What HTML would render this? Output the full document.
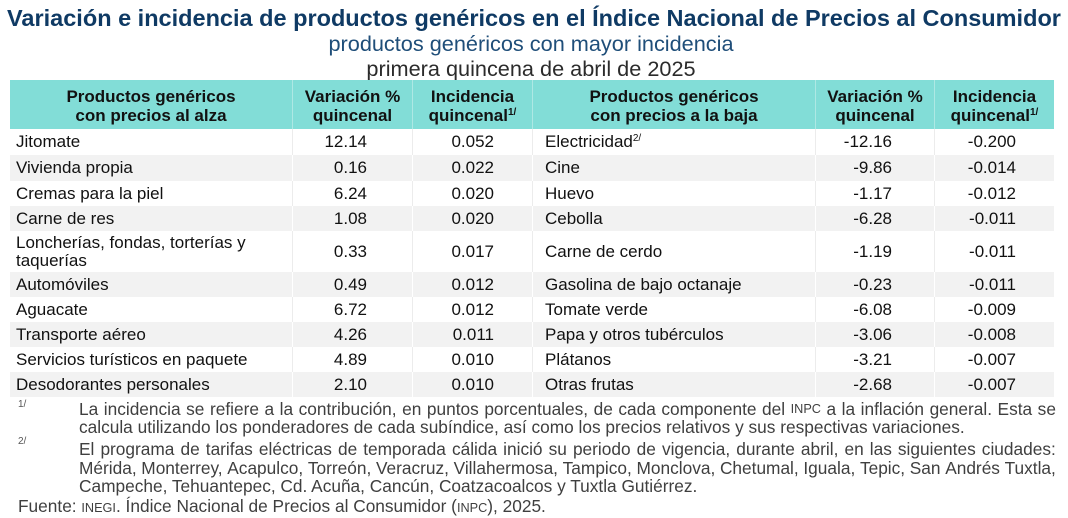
<!DOCTYPE html>
<html><head><meta charset="utf-8">
<style>
*{margin:0;padding:0}
body{width:1068px;height:518px;position:relative;background:#fff;font-family:"Liberation Sans",Arial,sans-serif;overflow:hidden;color:#111}
.t{position:absolute;left:-3px;width:1068px;text-align:center;white-space:nowrap}
.row{position:absolute;left:10px;width:1044px;display:flex}
.c{box-sizing:border-box;height:100%;display:flex;align-items:center;font-size:17px;white-space:nowrap}
.h .c{background:#82ddd7;justify-content:center;text-align:center;font-weight:bold;line-height:19px;border-right:1px solid #aee8e4;padding-top:2px}
.w .c{background:#fff;border-right:1px solid #ececec}
.g .c{background:#f2f2f2;border-right:1px solid #fff}
.row .c:last-child{border-right:none}
.c1{width:283px;padding-left:6px}
.c4{width:283px;padding-left:12px}
.c2{width:120px;justify-content:flex-end;padding-right:45px}
.c3{width:120px;justify-content:flex-end;padding-right:38px}
.c5{width:119px;justify-content:flex-end;padding-right:42px}
.c6{width:119px;justify-content:flex-end;padding-right:38px}
.h .c1,.h .c4{padding-left:0}
.h .c2,.h .c3,.h .c5,.h .c6{padding-right:0}
sup{font-size:10px;vertical-align:6px;line-height:0}
.fl{position:absolute;left:79px;width:977px;display:flex;justify-content:space-between;white-space:nowrap;font-size:17.3px;line-height:17.3px;height:17.3px;color:#3f3f3f}
.fl.l{justify-content:flex-start}
.sm{font-size:12.7px}
.mk{position:absolute;left:18px;font-size:10px;color:#555}
</style></head><body>

<div class="t" style="left:0;top:7px;font-size:23.5px;line-height:23.5px;font-weight:bold;color:#0f3a64">Variación e incidencia de productos genéricos en el Índice Nacional de Precios al Consumidor</div>
<div class="t" style="top:33px;font-size:21.7px;line-height:21.7px;color:#1f4e79">productos genéricos con mayor incidencia</div>
<div class="t" style="top:57.5px;font-size:21.7px;line-height:21.7px;color:#2b2b2b">primera quincena de abril de 2025</div>

<div class="row h" style="top:80px;height:49px">
<div class="c c1"><div>Productos genéricos<br>con precios al alza</div></div>
<div class="c c2"><div>Variación %<br>quincenal</div></div>
<div class="c c3"><div>Incidencia<br>quincenal<sup>1/</sup></div></div>
<div class="c c4"><div>Productos genéricos<br>con precios a la baja</div></div>
<div class="c c5"><div>Variación %<br>quincenal</div></div>
<div class="c c6"><div>Incidencia<br>quincenal<sup>1/</sup></div></div>
</div>

<div class="row w" style="top:129px;height:26px"><div class="c c1">Jitomate</div><div class="c c2">12.14</div><div class="c c3">0.052</div><div class="c c4"><div>Electricidad<sup>2/</sup></div></div><div class="c c5">-12.16</div><div class="c c6">-0.200</div></div>
<div class="row g" style="top:155px;height:26px"><div class="c c1">Vivienda propia</div><div class="c c2">0.16</div><div class="c c3">0.022</div><div class="c c4">Cine</div><div class="c c5">-9.86</div><div class="c c6">-0.014</div></div>
<div class="row w" style="top:181px;height:25px"><div class="c c1">Cremas para la piel</div><div class="c c2">6.24</div><div class="c c3">0.020</div><div class="c c4">Huevo</div><div class="c c5">-1.17</div><div class="c c6">-0.012</div></div>
<div class="row g" style="top:206px;height:25px"><div class="c c1">Carne de res</div><div class="c c2">1.08</div><div class="c c3">0.020</div><div class="c c4">Cebolla</div><div class="c c5">-6.28</div><div class="c c6">-0.011</div></div>
<div class="row w" style="top:231px;height:41px"><div class="c c1" style="line-height:17.5px"><div>Loncherías, fondas, torterías y<br>taquerías</div></div><div class="c c2">0.33</div><div class="c c3">0.017</div><div class="c c4">Carne de cerdo</div><div class="c c5">-1.19</div><div class="c c6">-0.011</div></div>
<div class="row g" style="top:272px;height:25px"><div class="c c1">Automóviles</div><div class="c c2">0.49</div><div class="c c3">0.012</div><div class="c c4">Gasolina de bajo octanaje</div><div class="c c5">-0.23</div><div class="c c6">-0.011</div></div>
<div class="row w" style="top:297px;height:25px"><div class="c c1">Aguacate</div><div class="c c2">6.72</div><div class="c c3">0.012</div><div class="c c4">Tomate verde</div><div class="c c5">-6.08</div><div class="c c6">-0.009</div></div>
<div class="row g" style="top:322px;height:25px"><div class="c c1">Transporte aéreo</div><div class="c c2">4.26</div><div class="c c3">0.011</div><div class="c c4">Papa y otros tubérculos</div><div class="c c5">-3.06</div><div class="c c6">-0.008</div></div>
<div class="row w" style="top:347px;height:25px"><div class="c c1">Servicios turísticos en paquete</div><div class="c c2">4.89</div><div class="c c3">0.010</div><div class="c c4">Plátanos</div><div class="c c5">-3.21</div><div class="c c6">-0.007</div></div>
<div class="row g" style="top:372px;height:25px"><div class="c c1">Desodorantes personales</div><div class="c c2">2.10</div><div class="c c3">0.010</div><div class="c c4">Otras frutas</div><div class="c c5">-2.68</div><div class="c c6">-0.007</div></div>

<div class="mk" style="top:399px">1/</div>
<div class="mk" style="top:436px">2/</div>

<div class="fl" style="top:401px"><span>La</span><span>incidencia</span><span>se</span><span>refiere</span><span>a</span><span>la</span><span>contribución,</span><span>en</span><span>puntos</span><span>porcentuales,</span><span>de</span><span>cada</span><span>componente</span><span>del</span><span class="sm">INPC</span><span>a</span><span>la</span><span>inflación</span><span>general.</span><span>Esta</span><span>se</span></div>
<div class="fl l" style="top:419px"><span>calcula utilizando los ponderadores de cada subíndice, así como los precios relativos y sus respectivas variaciones.</span></div>
<div class="fl" style="top:441px"><span>El</span><span>programa</span><span>de</span><span>tarifas</span><span>eléctricas</span><span>de</span><span>temporada</span><span>cálida</span><span>inició</span><span>su</span><span>periodo</span><span>de</span><span>vigencia,</span><span>durante</span><span>abril,</span><span>en</span><span>las</span><span>siguientes</span><span>ciudades:</span></div>
<div class="fl" style="top:459.5px"><span>Mérida,</span><span>Monterrey,</span><span>Acapulco,</span><span>Torreón,</span><span>Veracruz,</span><span>Villahermosa,</span><span>Tampico,</span><span>Monclova,</span><span>Chetumal,</span><span>Iguala,</span><span>Tepic,</span><span>San</span><span>Andrés</span><span>Tuxtla,</span></div>
<div class="fl l" style="top:478px"><span>Campeche, Tehuantepec, Cd. Acuña, Cancún, Coatzacoalcos y Tuxtla Gutiérrez.</span></div>
<div class="fl l" style="top:498px;left:18px"><span>Fuente: <span class="sm">INEGI</span>. Índice Nacional de Precios al Consumidor (<span class="sm">INPC</span>), 2025.</span></div>

</body></html>
